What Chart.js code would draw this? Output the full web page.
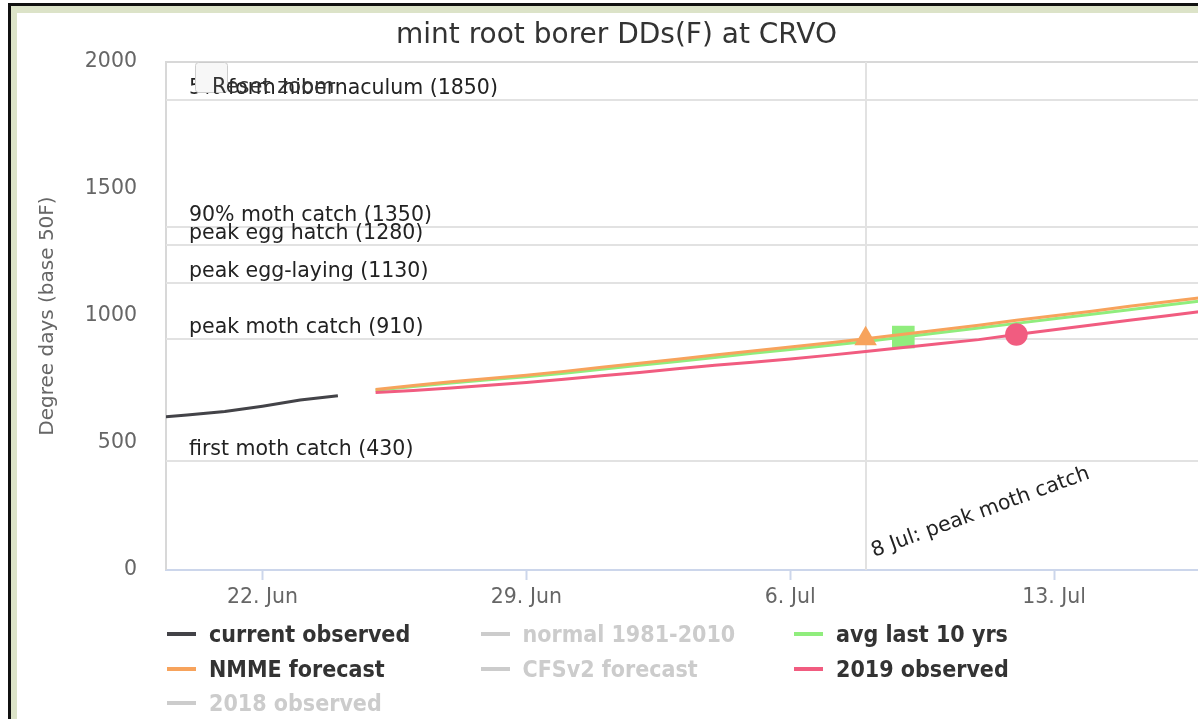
<!DOCTYPE html>
<html>
<head>
<meta charset="utf-8">
<title>mint root borer DDs(F) at CRVO</title>
<script src="https://cdn.jsdelivr.net/npm/chart.js@4.4.1/dist/chart.umd.min.js"></script>
<style>
html, body { margin: 0; padding: 0; background: #fff; overflow: hidden; width: 1198px; height: 719px; }
#frameTop { position: absolute; left: 8px; top: 3px; width: 1190px; height: 2.5px; background: #111; }
#frameLeft { position: absolute; left: 8px; top: 3px; width: 2.5px; height: 716px; background: #111; }
#bandTop { position: absolute; left: 10.5px; top: 5.5px; width: 1188px; height: 7.5px; background: #dce3c8; }
#bandLeft { position: absolute; left: 10.5px; top: 5.5px; width: 6px; height: 714px; background: #dce3c8; }
#chartBox { position: absolute; left: 17px; top: 13px; width: 1199px; height: 706px; }
#legend { position: absolute; left: 0; top: 0; font-family: "DejaVu Sans Condensed", "DejaVu Sans", sans-serif; font-weight: bold; font-size: 23px; }
.item { position: absolute; display: flex; align-items: center; height: 30px; white-space: nowrap; }
.sym { width: 29px; height: 4px; margin-right: 13px; }
</style>
</head>
<body>
<div id="frameTop"></div>
<div id="frameLeft"></div>
<div id="bandTop"></div>
<div id="bandLeft"></div>
<div id="chartBox"><canvas id="ddChart"></canvas></div>
<div id="legend"></div>
<script>
// days are counted as day of June (31 = 1 Jul, 38 = 8 Jul ...)
var currentDays = [18, 19, 20, 21, 22, 23, 24]
var currentObserved = [586, 598, 610, 624, 645, 669, 686]

var forecastDays = [25, 26, 27, 28, 29, 30, 31, 32, 33, 34, 35, 36, 37, 38, 39, 40, 41, 42, 43, 44, 45, 46, 47]
var nmmeForecast = [711, 726, 741, 754, 767, 782, 798, 814, 830, 846, 862, 878, 894, 910, 928, 946, 964, 983, 1001, 1019, 1038, 1056, 1074]
var avgLast10 = [708, 722, 736, 749, 761, 775, 790, 806, 821, 837, 853, 868, 884, 900, 917, 935, 953, 971, 989, 1007, 1025, 1043, 1061]
var observed2019 = [699, 707, 717, 727, 738, 751, 765, 778, 792, 806, 818, 831, 845, 860, 876, 892, 907, 927, 946, 965, 983, 1001, 1020]

// day each series reaches peak moth catch
var nmmeMarkerDay = 38
var avgMarkerDay = 39
var obs2019MarkerDay = 42

var xTickDays = [22, 29, 36, 43]
var xTickLabels = ['22. Jun', '29. Jun', '6. Jul', '13. Jul']

var stageValues = [1850, 1350, 1280, 1130, 910, 430]
var stageLabels = ['5% form hibernaculum (1850)', '90% moth catch (1350)', 'peak egg hatch (1280)',
    'peak egg-laying (1130)', 'peak moth catch (910)', 'first moth catch (430)']

var peakCatchDay = 38
var peakCatchLabel = '8 Jul: peak moth catch'

function toPoints(days, values) {
    return days.map(function (d, i) { return {x: d, y: values[i]} })
}

function markerRadius(day, r) {
    return function (ctx) { return ctx.raw && ctx.raw.x === day ? r : 0 }
}

Chart.defaults.font.family = '"DejaVu Sans", sans-serif'

var stagePlugin = {
    id: 'stagePlugin',
    beforeDatasetsDraw: function (chart) {
        var ctx = chart.ctx
        var a = chart.chartArea
        var x = chart.scales.x
        var y = chart.scales.y
        ctx.save()
        // plot border, top and left
        ctx.strokeStyle = '#d8d8d8'
        ctx.lineWidth = 2
        ctx.beginPath()
        ctx.moveTo(a.left, a.bottom)
        ctx.lineTo(a.left, a.top)
        ctx.lineTo(a.right, a.top)
        ctx.stroke()

        ctx.strokeStyle = '#e2e2e2'
        stageValues.forEach(function (v) {
            var py = Math.round(y.getPixelForValue(v))
            ctx.beginPath()
            ctx.moveTo(a.left, py)
            ctx.lineTo(a.right, py)
            ctx.stroke()
        })
        var px = Math.round(x.getPixelForValue(peakCatchDay))
        ctx.beginPath()
        ctx.moveTo(px, a.top)
        ctx.lineTo(px, a.bottom)
        ctx.stroke()

        ctx.fillStyle = '#222'
        ctx.font = '20.5px "DejaVu Sans"'
        ctx.textAlign = 'left'
        ctx.textBaseline = 'alphabetic'
        stageValues.forEach(function (v, i) {
            ctx.fillText(stageLabels[i], a.left + 23, y.getPixelForValue(v) - 6)
        })

        ctx.translate(px + 8, a.bottom - 13)
        ctx.rotate(-20 * Math.PI / 180)
        ctx.fillText(peakCatchLabel, 0, 0)
        ctx.restore()
    },
    afterDraw: function (chart) {
        // the Reset zoom button sits on top of the first label
        var ctx = chart.ctx
        var a = chart.chartArea
        ctx.save()
        ctx.fillStyle = '#f7f7f7'
        ctx.strokeStyle = '#cccccc'
        ctx.lineWidth = 1
        ctx.beginPath()
        ctx.roundRect(a.left + 29.5, a.top + 0.5, 32, 30, 3)
        ctx.fill()
        ctx.stroke()
        ctx.fillStyle = '#333'
        ctx.font = '21px "DejaVu Sans"'
        ctx.textBaseline = 'alphabetic'
        ctx.fillText('Reset zoom', a.left + 46, a.top + 31)
        ctx.restore()
    }
}

var seriesData = {
    datasets: [
        {label: 'current observed', data: toPoints(currentDays, currentObserved), borderColor: '#434348', backgroundColor: '#434348', pointRadius: 0},
        {label: 'normal 1981-2010', data: [], borderColor: '#7cb5ec', backgroundColor: '#7cb5ec', hidden: true, pointRadius: 0},
        {label: 'avg last 10 yrs', data: toPoints(forecastDays, avgLast10), borderColor: '#90ed7d', backgroundColor: '#90ed7d',
            pointStyle: 'rect', pointRadius: markerRadius(avgMarkerDay, 16)},
        {label: 'NMME forecast', data: toPoints(forecastDays, nmmeForecast), borderColor: '#f7a35c', backgroundColor: '#f7a35c',
            pointStyle: 'triangle', pointRadius: markerRadius(nmmeMarkerDay, 13)},
        {label: 'CFSv2 forecast', data: [], borderColor: '#8085e9', backgroundColor: '#8085e9', hidden: true, pointRadius: 0},
        {label: '2019 observed', data: toPoints(forecastDays, observed2019), borderColor: '#f15c80', backgroundColor: '#f15c80',
            pointStyle: 'circle', pointRadius: markerRadius(obs2019MarkerDay, 11.3)},
        {label: '2018 observed', data: [], borderColor: '#e4d354', backgroundColor: '#e4d354', hidden: true, pointRadius: 0}
    ]
}
seriesData.datasets.forEach(function (ds, i) {
    ds.borderWidth = 3
    ds.tension = 0
    ds.pointBorderWidth = 0
    ds.pointHoverRadius = ds.pointRadius
    ds.order = seriesData.datasets.length - i
})

var ddChart = new Chart(document.getElementById('ddChart'), {
    type: 'line',
    data: seriesData,
    options: {
        responsive: true,
        maintainAspectRatio: false,
        animation: false,
        events: [],
        layout: {padding: {left: 10, right: 10, top: 0, bottom: 0}},
        plugins: {
            legend: {display: false},
            tooltip: {enabled: false},
            title: {
                display: true,
                text: 'mint root borer DDs(F) at CRVO',
                color: '#333',
                font: {size: 28, weight: 'normal'},
                padding: {top: 6, bottom: 9.4}
            }
        },
        scales: {
            x: {
                type: 'linear',
                min: 19.44,
                max: 47.03,
                afterBuildTicks: function (scale) {
                    scale.ticks = xTickDays.map(function (d) { return {value: d} })
                },
                afterFit: function (scale) { scale.height = 149 },
                grid: {drawOnChartArea: false, drawTicks: true, tickLength: 10, tickColor: '#ccd6eb', tickWidth: 2},
                border: {display: true, color: '#ccd6eb', width: 2},
                ticks: {
                    autoSkip: false,
                    maxRotation: 0,
                    padding: 5,
                    color: '#666',
                    font: {size: 20.5},
                    callback: function (v) {
                        var k = xTickDays.indexOf(v)
                        return k >= 0 ? xTickLabels[k] : ''
                    }
                }
            },
            y: {
                min: 0,
                max: 2000,
                afterFit: function (scale) { scale.width = 139 },
                grid: {display: false, drawTicks: false},
                border: {display: false},
                ticks: {
                    stepSize: 500,
                    padding: 29,
                    color: '#666',
                    font: {size: 20.5},
                    callback: function (v) { return String(v) }
                },
                title: {
                    display: true,
                    text: 'Degree days (base 50F)',
                    color: '#666',
                    font: {size: 20},
                    padding: {top: 9, bottom: 0}
                }
            }
        }
    },
    plugins: [stagePlugin]
})

// legend laid out in three columns like the original
var legendBox = document.getElementById('legend')
ddChart.data.datasets.forEach(function (ds, i) {
    var col = i % 3
    var row = Math.floor(i / 3)
    var item = document.createElement('div')
    item.className = 'item'
    item.style.left = (167 + col * 313.5) + 'px'
    item.style.top = (634 - 15 + row * 34.5) + 'px'
    var sym = document.createElement('span')
    sym.className = 'sym'
    sym.style.background = ds.hidden ? '#cccccc' : ds.borderColor
    var txt = document.createElement('span')
    txt.textContent = ds.label
    txt.style.color = ds.hidden ? '#cccccc' : '#333333'
    item.appendChild(sym)
    item.appendChild(txt)
    legendBox.appendChild(item)
})
</script>
</body>
</html>
